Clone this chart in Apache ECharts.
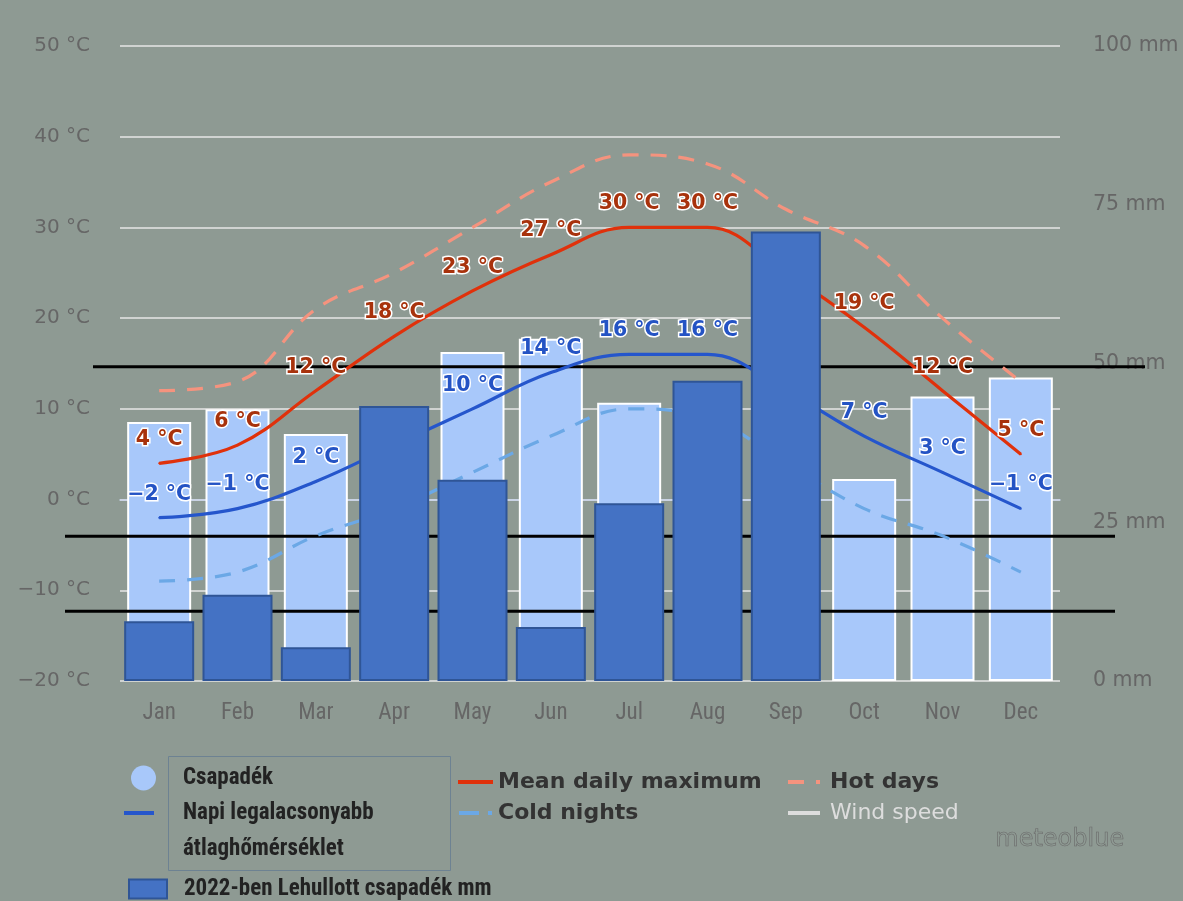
<!DOCTYPE html>
<html>
<head>
<meta charset="utf-8">
<script src="https://cdn.jsdelivr.net/npm/echarts@6/dist/echarts.min.js"></script>
<style>
html,body{margin:0;padding:0;background:#8e9a93;}
#chart{width:1183px;height:901px;}
</style>
</head>
<body>
<div id="chart"></div>
<script>
// ---------- data ----------
const months = ['Jan','Feb','Mar','Apr','May','Jun','Jul','Aug','Sep','Oct','Nov','Dec'];
const precipAvg = [40.8, 42.8, 38.9, 42, 51.8, 53.9, 43.8, 46, 45, 31.8, 44.8, 47.8];      // mm
const precip2022 = [9.4, 13.6, 5.3, 43.3, 31.7, 8.5, 28.0, 47.3, 70.8, null, null, null]; // mm
const meanMax = [4, 6, 12, 18, 23, 27, 30, 30, 25, 19, 12, 5];       // °C
const meanMin = [-2, -1, 2, 6, 10, 14, 16, 16, 12, 7, 3, -1];        // °C
const hotDays = [12, 13, 21, 25, 30, 35, 38, 37, 32, 28, 20, 13];     // °C
const coldNights = [-9, -8, -4, -1, 3, 7, 10, 9, 4, -1, -4, -8];      // °C
const windSpeed = [];
const refLinesMm = [49.5, 22.8, 11.0];

// ---------- names ----------
const N_AVG = 'Csapadék';
const N_MIN = 'Napi legalacsonyabb átlaghőmérséklet';
const N_2022 = '2022-ben Lehullott csapadék mm';
const N_MAX = 'Mean daily maximum';
const N_COLD = 'Cold nights';
const N_HOT = 'Hot days';
const N_WIND = 'Wind speed';

const fmtT = v => (v < 0 ? '\u2212' + Math.abs(v) : String(v)) + ' °C';

// pick a narrow bold font for the first legend column
const ctx = document.createElement('canvas').getContext('2d');
function hasFont(f) {
  ctx.font = 'bold 40px monospace';
  const w0 = ctx.measureText('Csapadék mmWwil').width;
  ctx.font = 'bold 40px "' + f + '", monospace';
  return Math.abs(ctx.measureText('Csapadék mmWwil').width - w0) > 0.5;
}
const narrowFont = ['Liberation Sans Narrow', 'Roboto Condensed', 'DejaVu Sans Condensed', 'DejaVu Sans'].find(hasFont) || 'sans-serif';
ctx.font = 'bold 24px "' + narrowFont + '"';
const narrowSize = Math.max(17, Math.min(24, 24 * 90 / ctx.measureText('Csapadék').width));

const chart = echarts.init(document.getElementById('chart'));

function tempLine(name, data, color, z, opts) {
  return Object.assign({
    name, type: 'line', data, xAxisIndex: 0, yAxisIndex: 0,
    smooth: 0.4, symbol: 'circle', symbolSize: 2, showSymbol: true, z,
    lineStyle: { color, width: 3.2 },
    itemStyle: { color }
  }, opts || {});
}
function tempLabel(color) {
  return {
    show: true, position: 'top', distance: 12,
    formatter: p => fmtT(p.value),
    color, fontFamily: 'DejaVu Sans', fontWeight: 'bold', fontSize: 20.5,
    textBorderColor: '#ffffff', textBorderWidth: 3
  };
}

const legendText = { fontFamily: narrowFont, fontWeight: 'bold', fontSize: narrowSize, color: '#222' };
const legendText2 = { fontFamily: 'DejaVu Sans', fontWeight: 'bold', fontSize: 22, color: '#333', lineHeight: 26 };

const option = {
  backgroundColor: '#8e9a93',
  animation: false,
  grid: { left: 120, right: 123, top: 46, bottom: 220 },
  xAxis: [
    { type: 'category', data: months,
      axisLine: { lineStyle: { color: '#c8d4ea', width: 1.5 } },
      axisTick: { show: false },
      axisLabel: { color: '#666', fontFamily: narrowFont, fontSize: 23, margin: 21 } },
    { type: 'category', data: months, show: false }
  ],
  yAxis: [
    { type: 'value', min: -20, max: 50, interval: 10,
      axisLine: { show: false }, axisTick: { show: false },
      axisLabel: { formatter: fmtT, color: '#666', fontFamily: 'DejaVu Sans', fontSize: 20, margin: 30 },
      splitLine: { lineStyle: { color: '#e6e6e6', width: 1.5 } } },
    { type: 'value', min: 0, max: 100, interval: 25, position: 'right',
      axisLine: { show: false }, axisTick: { show: false },
      axisLabel: { formatter: '{value} mm', color: '#666', fontFamily: 'DejaVu Sans', fontSize: 20.5, margin: 33 },
      splitLine: { show: false } }
  ],
  legend: [
    { data: [{ name: N_AVG, icon: 'circle', itemStyle: { borderWidth: 0 } }],
      left: 131, top: 763, padding: 0, itemWidth: 25, itemHeight: 25,
      textStyle: Object.assign({ lineHeight: 30, padding: [0, 0, 0, 22] }, legendText) },
    { data: [{ name: N_MIN, icon: 'rect', itemStyle: { borderWidth: 0 } }],
      left: 124, top: 759, padding: 0, itemWidth: 30, itemHeight: 4,
      formatter: () => '\nNapi legalacsonyabb\nátlaghőmérséklet',
      textStyle: Object.assign({ lineHeight: 36, padding: [0, 0, 0, 24] }, legendText) },
    { data: [{ name: N_2022, icon: 'rect', itemStyle: { borderWidth: 2, borderColor: '#2f5596' } }],
      left: 128, top: 874, padding: 0, itemWidth: 38, itemHeight: 19,
      textStyle: Object.assign({ lineHeight: 30, padding: [0, 0, 0, 12] }, legendText) },
    { data: [
        { name: N_MAX, icon: 'rect', itemStyle: { borderWidth: 0 } },
        { name: N_COLD, icon: 'path://M0,0h20v4h-20z M29,0h4v4h-4z', itemStyle: { borderWidth: 0 } }
      ],
      orient: 'vertical', left: 458, top: 769, padding: 0, itemGap: 5, itemWidth: 35, itemHeight: 4,
      textStyle: legendText2 },
    { data: [
        { name: N_HOT, icon: 'path://M0,0h16v4h-16z M28,0h4v4h-4z', itemStyle: { borderWidth: 0 } },
        { name: N_WIND, icon: 'rect', itemStyle: { borderWidth: 0 }, textStyle: { fontWeight: 'normal' } }
      ],
      orient: 'vertical', left: 788, top: 769, padding: 0, itemGap: 5, itemWidth: 32, itemHeight: 4,
      inactiveColor: '#dddddd', inactiveBorderColor: '#dddddd',
      selected: { [N_WIND]: false },
      textStyle: Object.assign({}, legendText2, { padding: [0, 0, 0, 5] }) }
  ],
  series: [
    { name: N_AVG, type: 'bar', data: precipAvg, xAxisIndex: 0, yAxisIndex: 1, z: 1,
      barWidth: 64, itemStyle: { color: '#a8c8fa', borderColor: '#ffffff', borderWidth: 2 } },
    tempLine(N_HOT, hotDays, '#f5937e', 3, { symbol: 'none', lineStyle: { color: '#f5937e', width: 3.2, type: [16, 12] } }),
    tempLine(N_COLD, coldNights, '#6ba8e6', 3, { symbol: 'none', lineStyle: { color: '#6ba8e6', width: 3.2, type: [16, 12] } }),
    tempLine(N_MAX, meanMax, '#e0310b', 3, { label: tempLabel('#a8320c') }),
    tempLine(N_MIN, meanMin, '#2556cc', 3, { label: tempLabel('#2453c4') }),
    tempLine(N_WIND, windSpeed, '#dddddd', 3, { symbol: 'none' }),
    { name: N_2022, type: 'bar', data: precip2022, xAxisIndex: 1, yAxisIndex: 1, z: 5,
      barWidth: 70, itemStyle: { color: '#4472c4', borderColor: '#2f5596', borderWidth: 2 } }
  ]
};
chart.setOption(option);

// decorative elements: reference lines positioned through the mm axis
const lineSpans = [[93, 1145], [65, 1115], [65, 1115]];
const graphics = refLinesMm.map((mm, i) => {
  const y = chart.convertToPixel({ yAxisIndex: 1 }, mm);
  return { type: 'line', z: 2, silent: true,
    shape: { x1: lineSpans[i][0], y1: y, x2: lineSpans[i][1], y2: y },
    style: { stroke: '#000', lineWidth: 3 } };
});
graphics.push({ type: 'rect', z: 0, silent: true,
  shape: { x: 168.5, y: 756.5, width: 282, height: 114 },
  style: { fill: 'none', stroke: '#6d8292', lineWidth: 1 } });
graphics.push({ type: 'text', z: 0, silent: true, left: 995, top: 827,
  style: { text: 'meteoblue', fill: 'rgba(0,0,0,0)', stroke: '#6a6a6a', lineWidth: 0.6,
           font: '24px "DejaVu Sans"' } });
chart.setOption({ graphic: graphics });
</script>
</body>
</html>
